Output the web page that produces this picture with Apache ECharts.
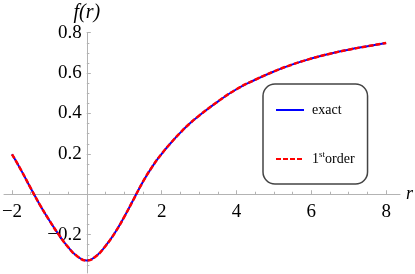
<!DOCTYPE html>
<html>
<head>
<meta charset="utf-8">
<script src="https://cdn.jsdelivr.net/npm/echarts@6/dist/echarts.min.js"></script>
<style>html,body{margin:0;padding:0;background:#fff}#c{width:415px;height:274px}</style>
</head>
<body>
<div id="c"></div>
<script>
var rValues = [-2, -1.75, -1.5, -1.25, -1, -0.75, -0.5, -0.25, 0, 0.25, 0.5, 0.75, 1, 1.25, 1.5, 1.75, 2, 2.25, 2.5, 2.75, 3, 3.5, 4, 4.5, 5, 5.5, 6, 6.5, 7, 7.5, 8];
var exact = [0.198, 0.117, 0.03, -0.054, -0.13, -0.2, -0.262, -0.308, -0.328, -0.306, -0.256, -0.191, -0.112, -0.025, 0.062, 0.137, 0.2, 0.255, 0.305, 0.35, 0.389, 0.459, 0.52, 0.567, 0.608, 0.643, 0.672, 0.696, 0.716, 0.733, 0.749];
var firstOrder = [0.198, 0.117, 0.03, -0.054, -0.13, -0.2, -0.262, -0.308, -0.328, -0.306, -0.256, -0.191, -0.112, -0.025, 0.062, 0.137, 0.2, 0.255, 0.305, 0.35, 0.389, 0.459, 0.52, 0.567, 0.608, 0.643, 0.672, 0.696, 0.716, 0.733, 0.749];
var xMajor = [-2, 0, 2, 4, 6, 8];
var xMinor = [-2, -1.5, -1, -0.5, 0, 0.5, 1, 1.5, 2, 2.5, 3, 3.5, 4, 4.5, 5, 5.5, 6, 6.5, 7, 7.5, 8];
var xLabels = [-2, 2, 4, 6, 8];
var yMajor = [-0.2, 0, 0.2, 0.4, 0.6, 0.8];
var yMinor = [-0.35, -0.3, -0.25, -0.2, -0.15, -0.1, -0.05, 0, 0.05, 0.1, 0.15, 0.2, 0.25, 0.3, 0.35, 0.4, 0.45, 0.5, 0.55, 0.6, 0.65, 0.7, 0.75, 0.8];
var yLabels = [-0.2, 0.2, 0.4, 0.6, 0.8];

var FONT = 'Liberation Serif';
var AX = '#b3b3b3';
function pair(a, b) { return a.map(function (v, i) { return [v, b[i]]; }); }
function minus(s) { return s.replace('-', '\u2212'); }

var W = 415, H = 274;
var G = {left: 4, right: 15, top: 32.7, bottom: 1};
var xMin = -2.214, xMax = 8.37, yMin = -0.39, yMax = 0.8;
var gw = W - G.left - G.right, gh = H - G.top - G.bottom;
// shift axes so they cross at the origin (computed from the scales)
var xAxisShift = -(0 - yMin) / (yMax - yMin) * gh;
var yAxisShift = -(0 - xMin) / (xMax - xMin) * gw;

var chart = echarts.init(document.getElementById('c'), null, {renderer: 'canvas'});
chart.setOption({
  animation: false,
  backgroundColor: '#fff',
  grid: {left: G.left, right: G.right, top: G.top, bottom: G.bottom, containLabel: false, outerBoundsMode: 'none'},
  xAxis: [{
    type: 'value', min: xMin, max: xMax, position: 'bottom', offset: xAxisShift,
    axisLine: {onZero: false, lineStyle: {color: AX, width: 1}},
    axisTick: {inside: true, length: 4, customValues: xMajor, lineStyle: {color: AX}},
    axisLabel: {customValues: xLabels, margin: 8, fontFamily: FONT, fontSize: 19, color: '#000',
      formatter: function (v) { return minus(String(v)); }},
    splitLine: {show: false},
    name: 'r', nameLocation: 'end', nameGap: 6,
    nameTextStyle: {fontFamily: FONT, fontStyle: 'italic', fontSize: 18, color: '#000', verticalAlign: 'middle'}
  }, {
    type: 'value', min: xMin, max: xMax, position: 'bottom', offset: xAxisShift,
    axisLine: {show: false, onZero: false},
    axisTick: {inside: true, length: 2.5, customValues: xMinor, lineStyle: {color: AX}},
    axisLabel: {show: false}, splitLine: {show: false}
  }],
  yAxis: [{
    type: 'value', min: yMin, max: yMax, position: 'left', offset: yAxisShift,
    axisLine: {onZero: false, lineStyle: {color: AX, width: 1}},
    axisTick: {inside: true, length: 4, customValues: yMajor, lineStyle: {color: AX}},
    axisLabel: {customValues: yLabels, margin: 5, fontFamily: FONT, fontSize: 19, color: '#000',
      formatter: function (v) { return minus(v.toFixed(1)); }},
    splitLine: {show: false},
    name: 'f(r)', nameLocation: 'end', nameGap: 10,
    nameTextStyle: {fontFamily: FONT, fontStyle: 'italic', fontSize: 20, color: '#000', align: 'center'}
  }, {
    type: 'value', min: yMin, max: yMax, position: 'left', offset: yAxisShift,
    axisLine: {show: false, onZero: false},
    axisTick: {inside: true, length: 2.5, customValues: yMinor, lineStyle: {color: AX}},
    axisLabel: {show: false}, splitLine: {show: false}
  }],
  legend: {
    left: 263, top: 84, orient: 'vertical',
    padding: [19, 13, 18, 12], itemGap: 33, itemWidth: 28, itemHeight: 14,
    borderColor: '#444', borderWidth: 1.5, borderRadius: 12,
    itemStyle: {opacity: 0},
    data: ['exact', '1st order'],
    formatter: function (n) { return n === '1st order' ? '1{sup|st}order' : n; },
    textStyle: {fontFamily: FONT, fontSize: 14, color: '#000', padding: [0, 0, 0, 3],
      rich: {sup: {fontFamily: FONT, fontSize: 9, color: '#000', verticalAlign: 'top', lineHeight: 18}}}
  },
  series: [{
    name: 'exact', type: 'line', xAxisIndex: 0, yAxisIndex: 0,
    data: pair(rValues, exact), smooth: 0.5, symbol: 'none',
    lineStyle: {color: '#0000ff', width: 2}, itemStyle: {color: '#0000ff'}
  }, {
    name: '1st order', type: 'line', xAxisIndex: 0, yAxisIndex: 0,
    data: pair(rValues, firstOrder), smooth: 0.5, symbol: 'none',
    lineStyle: {color: '#ff0000', width: 2.5, type: [5, 2]}, itemStyle: {color: '#ff0000'}
  }]
});
</script>
</body>
</html>
